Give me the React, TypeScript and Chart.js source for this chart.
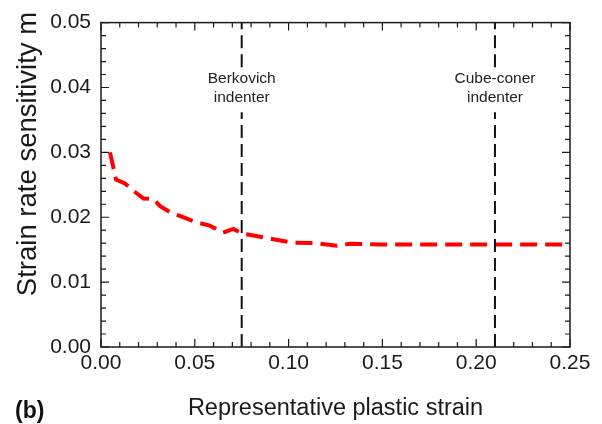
import React, { useEffect, useRef } from "react";
import { Chart, registerables } from "chart.js";

Chart.register(...registerables);

// Representative plastic strain (x) and strain rate sensitivity m (y)
const strain = [0.0048, 0.008, 0.0128, 0.0176, 0.0226, 0.0279, 0.0315, 0.0368, 0.042, 0.051, 0.058, 0.065, 0.0705, 0.075, 0.0864, 0.1015, 0.115, 0.1256, 0.1327, 0.15, 0.2, 0.25];
const mValues = [0.0300, 0.0258, 0.0252, 0.0240, 0.0229, 0.0228, 0.0217, 0.0208, 0.0202, 0.0192, 0.0187, 0.0176, 0.0182, 0.0175, 0.0169, 0.0161, 0.0160, 0.0156, 0.0159, 0.0158, 0.0158, 0.0158];

// Indenter reference lines
const indenterStrain = [0.075, 0.21];
const indenterLabels = [["Berkovich", "indenter"], ["Cube-coner", "indenter"]];
const indenterGap = [0.0362, 0.0431]; // label gap in the dashed line (y values)

const xRange = [0, 0.25];
const yRange = [0, 0.05];
const xMajor = 0.05;
const yMajor = 0.01;
const xMinor = 0.01;
const yMinor = 0.002;

const xTitle = "Representative plastic strain";
const yTitle = "Strain rate sensitivity m";
const panelLabel = "(b)";

const FONT = "'Liberation Sans', Arial, Helvetica, sans-serif";
const INK = "#1a1a1a";

export default function App() {
  const ref = useRef<HTMLCanvasElement | null>(null);

  useEffect(() => {
    document.body.style.margin = "0";
    const canvas = ref.current;
    if (!canvas) return;

    const framePlugin = {
      id: "frame",
      afterDraw(chart: any) {
        const { ctx, chartArea } = chart;
        const { left, right, top, bottom } = chartArea;
        const xs = chart.scales.x;
        const ys = chart.scales.y;
        ctx.save();
        ctx.strokeStyle = INK;
        ctx.lineWidth = 1.5;
        ctx.strokeRect(left, top, right - left, bottom - top);
        ctx.lineWidth = 1.2;
        ctx.beginPath();
        const nx = Math.round((xRange[1] - xRange[0]) / xMinor);
        for (let i = 0; i <= nx; i++) {
          const v = xRange[0] + i * xMinor;
          const px = xs.getPixelForValue(v);
          const len = i % Math.round(xMajor / xMinor) === 0 ? 8 : 5;
          ctx.moveTo(px, bottom);
          ctx.lineTo(px, bottom - len);
          ctx.moveTo(px, top);
          ctx.lineTo(px, top + len);
        }
        const ny = Math.round((yRange[1] - yRange[0]) / yMinor);
        for (let i = 0; i <= ny; i++) {
          const v = yRange[0] + i * yMinor;
          const py = ys.getPixelForValue(v);
          const len = i % Math.round(yMajor / yMinor) === 0 ? 8 : 5;
          ctx.moveTo(left, py);
          ctx.lineTo(left + len, py);
          ctx.moveTo(right, py);
          ctx.lineTo(right - len, py);
        }
        ctx.stroke();

        // indenter labels
        ctx.fillStyle = "#222";
        ctx.font = `15.5px ${FONT}`;
        ctx.textAlign = "center";
        ctx.textBaseline = "middle";
        const yMid = (ys.getPixelForValue(indenterGap[0]) + ys.getPixelForValue(indenterGap[1])) / 2;
        indenterStrain.forEach((s, i) => {
          const px = xs.getPixelForValue(s);
          ctx.fillText(indenterLabels[i][0], px, yMid - 11);
          ctx.fillText(indenterLabels[i][1], px, yMid + 8);
        });

        // y axis title
        ctx.save();
        ctx.fillStyle = INK;
        ctx.font = `27.5px ${FONT}`;
        ctx.textAlign = "center";
        ctx.textBaseline = "alphabetic";
        ctx.translate(35.5, 154);
        ctx.rotate(-Math.PI / 2);
        ctx.fillText(yTitle, 0, 0);
        ctx.restore();

        // panel letter
        ctx.font = `bold 23px ${FONT}`;
        ctx.textAlign = "left";
        ctx.textBaseline = "alphabetic";
        ctx.fillStyle = "#111";
        ctx.fillText(panelLabel, 15, 418);
        ctx.restore();
      },
    };

    const indenterSets = indenterStrain.map((s) => ({
      label: "indenter",
      data: [
        { x: s, y: yRange[0] },
        { x: s, y: indenterGap[0] },
        { x: s, y: null },
        { x: s, y: indenterGap[1] },
        { x: s, y: yRange[1] },
      ],
      showLine: true,
      spanGaps: false,
      borderColor: "#111",
      borderWidth: 2,
      borderDash: [13, 6],
      pointRadius: 0,
      order: 0,
    }));

    const chart = new Chart(canvas, {
      type: "scatter",
      data: {
        datasets: [
          ...indenterSets,
          {
            label: "m",
            data: strain.map((x, i) => ({ x, y: mValues[i] })),
            showLine: true,
            borderColor: "#ff0000",
            borderWidth: 4,
            borderDash: [17, 8],
            pointRadius: 0,
            tension: 0,
            order: 1,
          },
        ] as any,
      },
      options: {
        responsive: false,
        animation: false,
        layout: { padding: { left: 0, right: 32, top: 17, bottom: 0 } },
        plugins: { legend: { display: false }, tooltip: { enabled: false } },
        scales: {
          x: {
            type: "linear",
            min: xRange[0],
            max: xRange[1],
            grid: { display: false, drawTicks: false },
            border: { display: false },
            ticks: {
              stepSize: xMajor,
              autoSkip: false,
              maxRotation: 0,
              padding: 4,
              color: INK,
              font: { family: FONT, size: 21 },
              callback: (v: any) => Number(v).toFixed(2),
            },
            title: {
              display: true,
              text: xTitle,
              color: INK,
              font: { family: FONT, size: 23.5 },
              padding: { top: 0, bottom: 1 },
            },
            afterFit: (s: any) => {
              s.height = 77;
            },
          },
          y: {
            type: "linear",
            min: yRange[0],
            max: yRange[1],
            grid: { display: false, drawTicks: false },
            border: { display: false },
            ticks: {
              stepSize: yMajor,
              autoSkip: false,
              padding: 10,
              color: INK,
              font: { family: FONT, size: 21 },
              callback: (v: any) => Number(v).toFixed(2),
            },
            afterFit: (s: any) => {
              s.width = 101;
            },
          },
        },
      },
      plugins: [framePlugin],
    });

    return () => chart.destroy();
  }, []);

  return (
    <div style={{ width: 602, height: 424 }}>
      <canvas ref={ref} width={602} height={424} style={{ display: "block" }} />
    </div>
  );
}
